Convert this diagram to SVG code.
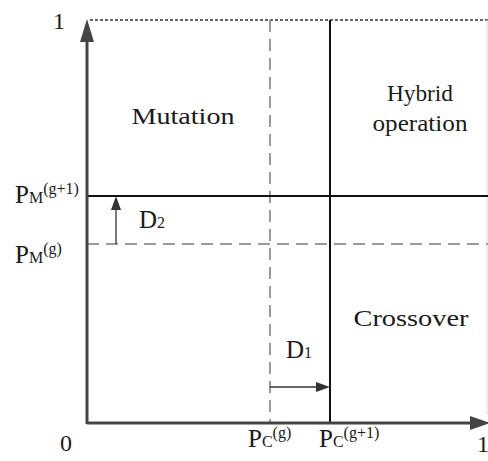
<svg xmlns="http://www.w3.org/2000/svg" width="488" height="461" viewBox="0 0 488 461">
<style>
.t{font-family:"Liberation Serif","DejaVu Serif","Times New Roman",serif;fill:#1a1a1a}
.big{font-size:24px}
.lbl{font-size:25px}
.sub{font-size:16px}
.axis{stroke:#444;stroke-width:3;fill:none}
.solid{stroke:#111;stroke-width:2;fill:none}
.dash{stroke:#9a9a9a;stroke-width:2;stroke-dasharray:12 7;fill:none}
.dot{stroke:#333;stroke-width:1.5;stroke-dasharray:3 2;fill:none}
.thin{stroke:#333;stroke-width:1.3;fill:none}
</style>
<rect width="488" height="461" fill="#fff"/>
<g id="connectors">
<line class="dot" x1="90" y1="20" x2="488" y2="20"/>
<line x1="487" y1="20" x2="487" y2="415" stroke="#ddd" stroke-width="1"/>
<line class="dash" x1="270" y1="20" x2="270" y2="423"/>
<line class="dash" x1="87" y1="244" x2="488" y2="244"/>
<line class="solid" x1="330" y1="20" x2="330" y2="423"/>
<line class="solid" x1="87" y1="196" x2="488" y2="196"/>
<path d="M87,424 L87,40" class="axis"/>
<path d="M80,42 L87,19 L94,42 Z" fill="#444"/>
<path d="M87,423 L472,423" class="axis"/>
<path d="M470,416 L490,423 L470,430 Z" fill="#444"/>
<line class="thin" x1="116" y1="244" x2="116" y2="208"/>
<path d="M111,210 L116,196 L121,210 Z" fill="#333"/>
<line class="thin" x1="270" y1="387" x2="318" y2="387"/>
<path d="M316,382 L330,387 L316,392 Z" fill="#333"/>
</g>
<g id="mutation"><text class="t big" x="183" y="124" text-anchor="middle" textLength="103" lengthAdjust="spacingAndGlyphs">Mutation</text></g>
<g id="hybrid"><text class="t big" x="420" y="101" text-anchor="middle" textLength="66" lengthAdjust="spacingAndGlyphs">Hybrid</text><text class="t big" x="420" y="131" text-anchor="middle" textLength="95" lengthAdjust="spacingAndGlyphs">operation</text></g>
<g id="crossover"><text class="t big" x="411" y="326" text-anchor="middle" textLength="115" lengthAdjust="spacingAndGlyphs">Crossover</text></g>
<g id="labels">
<text class="t big" x="53" y="29">1</text>
<text class="t big" x="60" y="451">0</text>
<text class="t big" x="477" y="452">1</text>
<text class="t" x="15" y="203"><tspan class="lbl">P</tspan><tspan class="sub">M</tspan><tspan class="sub" dy="-9">(g+1)</tspan></text>
<text class="t" x="15" y="263"><tspan class="lbl">P</tspan><tspan class="sub">M</tspan><tspan class="sub" dy="-9">(g)</tspan></text>
<text class="t" x="248" y="447"><tspan class="lbl">P</tspan><tspan class="sub">C</tspan><tspan class="sub" dy="-9">(g)</tspan></text>
<text class="t" x="319" y="447"><tspan class="lbl">P</tspan><tspan class="sub">C</tspan><tspan class="sub" dy="-9">(g+1)</tspan></text>
<text class="t" x="139" y="228"><tspan class="lbl">D</tspan><tspan class="sub">2</tspan></text>
<text class="t" x="286" y="358"><tspan class="lbl">D</tspan><tspan class="sub">1</tspan></text>
</g>
</svg>
